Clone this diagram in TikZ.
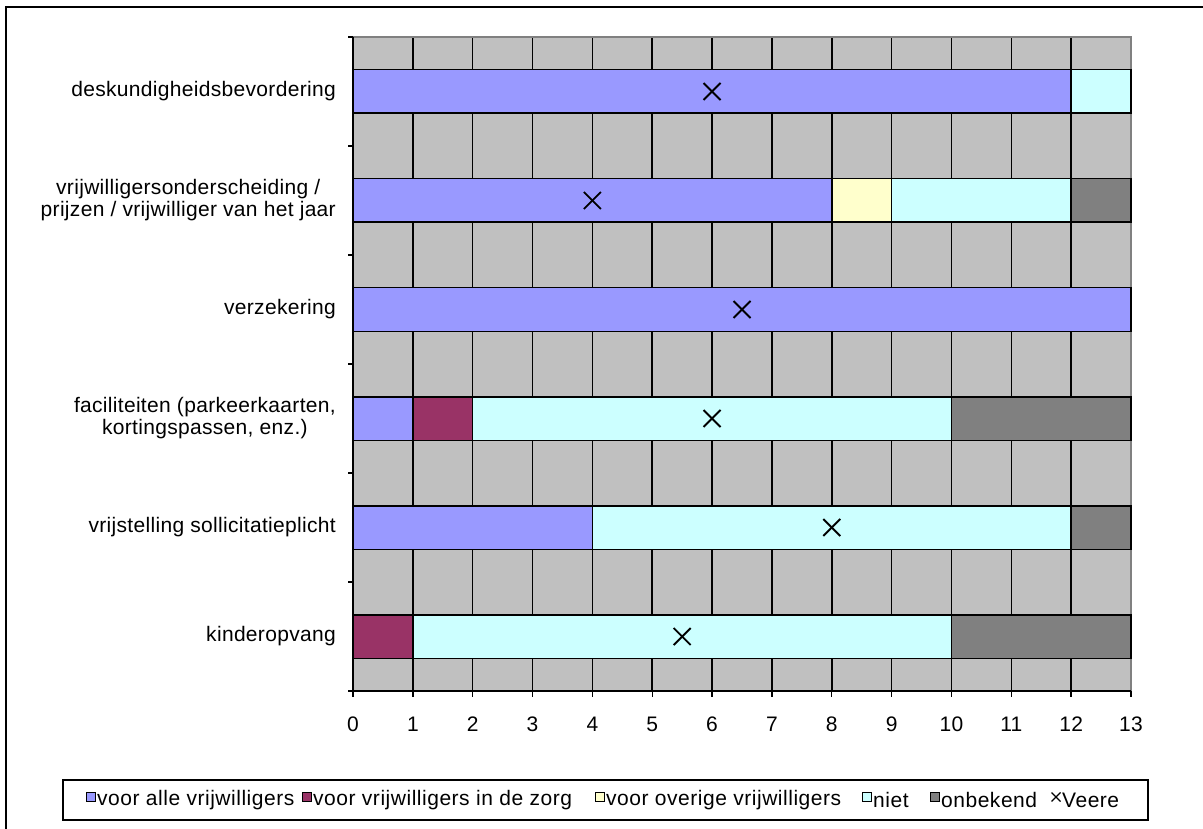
\documentclass[tikz,border=0pt]{standalone}
\usepackage{fontspec}
\setmainfont{Liberation Sans}[LetterSpace=1.5]
\newfontfamily\legfont{Liberation Sans}[LetterSpace=2.5]
\definecolor{plotbg}{HTML}{C0C0C0}
\definecolor{cblue}{HTML}{9999FF}
\definecolor{cmaroon}{HTML}{993366}
\definecolor{cyellow}{HTML}{FFFFCC}
\definecolor{ccyan}{HTML}{CCFFFF}
\definecolor{cgrey}{HTML}{808080}
\tikzset{
  barseg/.style={draw=black, line width=1.6pt},
  catlabel/.style={anchor=east, align=center, inner sep=0pt, font=\fontsize{21}{22}\selectfont},
  ticklabel/.style={anchor=center, inner sep=0pt, font=\fontsize{21}{22}\selectfont},
  legtext/.style={anchor=west, inner sep=0pt, font=\legfont\fontsize{21}{22}\selectfont},
  legsq/.style={draw=black, line width=1.1pt, minimum size=9pt, inner sep=0pt},
  xmark/.style={line width=1.9pt},
}
\begin{document}
\begin{tikzpicture}[x=1pt,y=-1pt]
\useasboundingbox (0,0) rectangle (1203,829);
% outer frame (right and bottom edges lie outside the picture)
\draw[line width=1.8pt] (6,840) -- (6,7) -- (1215,7);
% plot area
\fill[plotbg] (353,37) rectangle (1131,691);
\begin{scope}[x=59.846pt, xshift=353pt]
  \foreach \i in {1,...,12} \draw[line width=1.5pt] (\i,37) -- (\i,691);
  \draw[cgrey, line width=1.6pt] (0,37) -- (13,37) -- (13,691);
  % bars
  \def\bar#1#2#3#4{\filldraw[barseg, fill=#4] (#2,#1-21.8) rectangle (#3,#1+21.8);}
  % row 1
  \bar{91.5}{0}{12}{cblue}\bar{91.5}{12}{13}{ccyan}
  % row 2
  \bar{200.5}{0}{8}{cblue}\bar{200.5}{8}{9}{cyellow}\bar{200.5}{9}{12}{ccyan}\bar{200.5}{12}{13}{cgrey}
  % row 3
  \bar{309.5}{0}{13}{cblue}
  % row 4
  \bar{418.5}{0}{1}{cblue}\bar{418.5}{1}{2}{cmaroon}\bar{418.5}{2}{10}{ccyan}\bar{418.5}{10}{13}{cgrey}
  % row 5
  \bar{527.5}{0}{4}{cblue}\bar{527.5}{4}{12}{ccyan}\bar{527.5}{12}{13}{cgrey}
  % row 6
  \bar{636.5}{0}{1}{cmaroon}\bar{636.5}{1}{10}{ccyan}\bar{636.5}{10}{13}{cgrey}
  % Veere markers
  \foreach \v/\yy in {6/91.5, 4/200.5, 6.5/309.5, 6/418.5, 8/527.5, 5.5/636.5}{
    \draw[xmark] ([shift={(-8.5pt,-8.5pt)}]\v,\yy) -- ([shift={(8.5pt,8.5pt)}]\v,\yy);
    \draw[xmark] ([shift={(-8.5pt,8.5pt)}]\v,\yy) -- ([shift={(8.5pt,-8.5pt)}]\v,\yy);
  }
  % axes
  \draw[line width=1.6pt] (0,37) -- (0,691) -- (13,691);
  \foreach \i in {0,...,13}{
    \draw[line width=1.4pt] (\i,691) -- (\i,697);
    \node[ticklabel] (xl\i) at (\i,724) {\i};
  }
  \foreach \k in {0,...,6} \draw[line width=1.4pt] (0,37+109*\k) -- ([xshift=-5pt]0,37+109*\k);
\end{scope}
% category labels
\node[catlabel] (c1) at (336,91.5) {deskundigheidsbevordering};
\node[catlabel] (c2) at (336,200.5) {vrijwilligersonderscheiding /\\prijzen / vrijwilliger van het jaar};
\node[catlabel] (c3) at (336,309.5) {verzekering};
\node[catlabel] (c4) at (336,418.5) {faciliteiten (parkeerkaarten,\\kortingspassen, enz.)};
\node[catlabel] (c5) at (336,527.5) {vrijstelling sollicitatieplicht};
\node[catlabel] (c6) at (336,636.5) {kinderopvang};
% legend
\draw[line width=1.6pt] (63,780) rectangle (1148,820);
\node[legsq, fill=cblue] (s1) at (91,797) {};
\node[legtext] (t1) at (97,800) {voor alle vrijwilligers};
\node[legsq, fill=cmaroon] (s2) at (307,797) {};
\node[legtext] (t2) at (313,800) {voor vrijwilligers in de zorg};
\node[legsq, fill=cyellow] (s3) at (600,797) {};
\node[legtext] (t3) at (606,800) {voor overige vrijwilligers};
\node[legsq, fill=ccyan] (s4) at (867,797) {};
\node[legtext] (t4) at (873,800) {niet};
\node[legsq, fill=cgrey] (s5) at (935,797) {};
\node[legtext] (t5) at (941,800) {onbekend};
\coordinate (m6) at (1056,797);
\draw[line width=1.3pt] ([shift={(-4.5pt,-4.5pt)}]m6) -- ([shift={(4.5pt,4.5pt)}]m6);
\draw[line width=1.3pt] ([shift={(-4.5pt,4.5pt)}]m6) -- ([shift={(4.5pt,-4.5pt)}]m6);
\node[legtext] (t6) at (1062,800) {Veere};
\end{tikzpicture}
\end{document}
